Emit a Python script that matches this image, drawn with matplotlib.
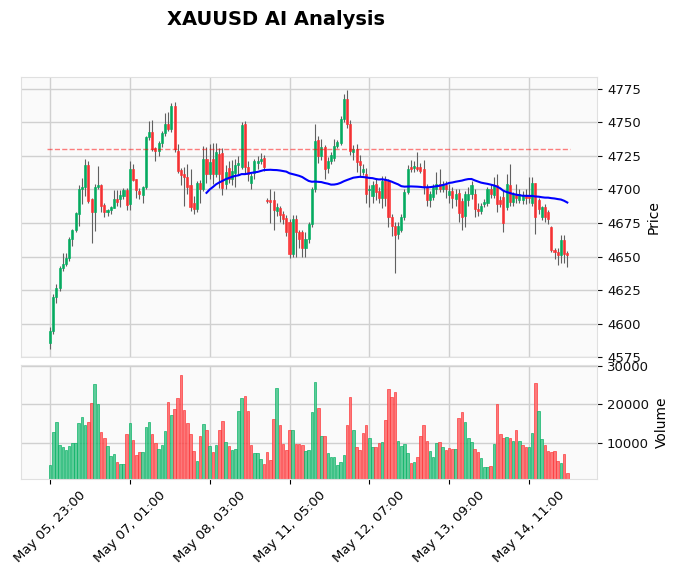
import numpy as np
import pandas as pd
import matplotlib
matplotlib.use('Agg')
import matplotlib.pyplot as plt
from matplotlib.ticker import ScalarFormatter

# OHLC + volume, hourly bars
opens = [4585.7, 4594.6, 4620.1, 4626.5, 4641.3, 4644.7, 4649.1, 4663.4, 4669.8, 4681.6,
         4700.0, 4701.7, 4718.0, 4692.9, 4683.5, 4702.2, 4703.2, 4688.5, 4683.0, 4684.5,
         4686.5, 4692.9, 4692.9, 4695.3, 4699.8, 4689.0, 4715.0, 4707.6, 4699.0, 4696.0,
         4701.7, 4739.0, 4743.0, 4731.0, 4729.0, 4735.0, 4742.0, 4749.0, 4745.0, 4762.0,
         4729.0, 4714.5, 4711.7, 4709.2, 4703.0, 4690.0, 4685.6, 4704.5, 4700.0, 4722.9,
         4711.7, 4722.9, 4711.2, 4726.6, 4727.0, 4704.0, 4716.0, 4708.0, 4712.0, 4718.0,
         4717.0, 4749.0, 4716.7, 4705.0, 4712.0, 4719.5, 4721.5, 4723.5, 4692.0, 4692.5,
         4692.0, 4684.0, 4686.0, 4682.0, 4679.0, 4676.0, 4652.0, 4678.0, 4668.0, 4668.0,
         4656.0, 4663.0, 4674.0, 4700.0, 4737.0, 4725.0, 4731.6, 4715.9, 4721.0, 4723.4,
         4732.8, 4735.0, 4752.7, 4767.7, 4749.0, 4727.9, 4730.3, 4721.6, 4713.0, 4711.7,
         4699.5, 4695.0, 4704.0, 4699.0, 4694.0, 4708.0, 4706.7, 4679.4, 4673.0, 4667.0,
         4670.0, 4679.4, 4698.3, 4716.9, 4716.4, 4716.6, 4716.6, 4715.4, 4701.7, 4692.0,
         4694.5, 4700.0, 4704.0, 4700.5, 4703.0, 4696.0, 4699.0, 4693.0, 4697.5, 4691.5,
         4680.0, 4692.0, 4697.0, 4696.5, 4685.6, 4684.0, 4689.0, 4690.0, 4700.5, 4696.0,
         4703.0, 4691.8, 4694.6, 4687.0, 4703.0, 4690.5, 4697.0, 4692.0, 4692.0, 4696.0,
         4696.0, 4690.0, 4704.5, 4691.8, 4679.4, 4686.8, 4683.0, 4671.9, 4654.5, 4653.3,
         4650.9, 4662.5, 4652.6]
highs = [4597.5, 4622.0, 4629.5, 4643.0, 4652.6, 4652.6, 4664.4, 4670.3, 4683.5, 4703.2,
         4708.8, 4723.0, 4721.6, 4693.5, 4704.4, 4717.4, 4704.0, 4690.0, 4685.5, 4688.0,
         4699.5, 4699.5, 4699.8, 4700.8, 4701.0, 4721.4, 4719.0, 4708.0, 4701.0, 4702.5,
         4740.0, 4751.0, 4752.0, 4732.0, 4736.0, 4744.0, 4757.0, 4758.0, 4764.6, 4765.0,
         4734.0, 4716.0, 4716.7, 4719.0, 4715.0, 4695.0, 4706.7, 4707.0, 4732.8, 4732.0,
         4734.0, 4734.6, 4734.6, 4731.0, 4731.0, 4718.0, 4721.0, 4722.0, 4723.0, 4725.0,
         4750.0, 4751.0, 4721.0, 4712.0, 4723.0, 4725.0, 4727.0, 4726.0, 4694.0, 4700.0,
         4699.0, 4690.0, 4688.0, 4684.0, 4681.0, 4678.0, 4681.0, 4681.0, 4670.0, 4670.0,
         4668.0, 4676.0, 4702.0, 4749.0, 4740.0, 4738.0, 4733.0, 4724.0, 4728.0, 4738.0,
         4737.0, 4755.0, 4771.0, 4774.0, 4752.0, 4733.0, 4734.0, 4726.0, 4719.0, 4716.0,
         4703.0, 4706.0, 4708.0, 4702.0, 4710.0, 4710.0, 4708.0, 4682.0, 4676.0, 4676.0,
         4682.0, 4700.0, 4718.0, 4722.0, 4721.0, 4728.0, 4720.0, 4722.0, 4704.0, 4699.0,
         4704.0, 4713.0, 4715.0, 4706.0, 4706.0, 4704.0, 4702.0, 4700.0, 4700.0, 4694.0,
         4699.0, 4702.0, 4706.0, 4700.0, 4690.0, 4690.0, 4693.0, 4702.0, 4704.0, 4709.5,
         4711.6, 4695.0, 4699.0, 4711.6, 4719.0, 4698.0, 4704.0, 4700.0, 4699.0, 4700.0,
         4709.0, 4709.5, 4705.0, 4694.0, 4688.0, 4689.0, 4685.0, 4673.0, 4656.0, 4656.0,
         4666.0, 4666.0, 4654.0]
lows = [4580.8, 4592.0, 4615.0, 4624.0, 4639.0, 4643.0, 4647.0, 4657.7, 4668.0, 4672.5,
        4689.0, 4695.0, 4690.0, 4660.2, 4668.8, 4700.0, 4683.0, 4679.4, 4680.0, 4682.0,
        4686.0, 4688.0, 4687.0, 4693.0, 4685.0, 4684.8, 4706.0, 4694.0, 4693.0, 4690.0,
        4700.0, 4737.0, 4729.0, 4721.5, 4725.0, 4732.0, 4740.0, 4744.0, 4743.0, 4728.0,
        4712.0, 4703.7, 4688.0, 4697.0, 4684.0, 4682.0, 4683.0, 4690.0, 4699.0, 4705.0,
        4708.0, 4704.0, 4709.0, 4701.0, 4696.0, 4700.0, 4705.0, 4703.0, 4702.0, 4711.0,
        4715.0, 4712.0, 4706.0, 4700.0, 4708.0, 4715.0, 4719.0, 4714.0, 4690.0, 4675.0,
        4670.0, 4680.0, 4676.0, 4674.0, 4665.0, 4649.0, 4650.0, 4650.0, 4656.0, 4650.0,
        4650.0, 4660.0, 4672.0, 4698.0, 4720.0, 4722.0, 4708.0, 4712.0, 4719.0, 4721.0,
        4731.0, 4733.0, 4750.0, 4746.0, 4726.0, 4722.0, 4713.0, 4710.0, 4711.0, 4690.0,
        4687.0, 4690.0, 4692.0, 4690.0, 4686.0, 4688.0, 4672.0, 4665.0, 4638.0, 4663.0,
        4668.0, 4677.0, 4697.0, 4713.0, 4713.0, 4714.0, 4712.0, 4697.0, 4688.0, 4687.0,
        4692.0, 4697.0, 4698.0, 4698.0, 4694.0, 4690.0, 4686.0, 4688.0, 4676.0, 4669.5,
        4672.0, 4688.0, 4693.0, 4679.4, 4680.0, 4682.0, 4687.0, 4688.0, 4694.0, 4694.0,
        4683.0, 4687.0, 4668.0, 4685.0, 4688.0, 4688.0, 4690.0, 4690.0, 4689.0, 4689.0,
        4690.0, 4688.0, 4666.9, 4682.0, 4677.0, 4676.0, 4674.0, 4653.0, 4648.0, 4644.0,
        4645.0, 4645.0, 4642.0]
closes = [4594.6, 4620.1, 4626.5, 4641.3, 4644.7, 4649.1, 4663.4, 4669.8, 4682.6, 4700.0,
          4701.7, 4718.0, 4691.4, 4683.5, 4702.2, 4703.2, 4688.0, 4683.0, 4684.5, 4687.0,
          4692.9, 4690.9, 4695.8, 4699.8, 4688.5, 4715.0, 4707.1, 4699.5, 4696.3, 4701.7,
          4739.0, 4743.0, 4730.3, 4729.0, 4735.0, 4742.0, 4749.0, 4745.0, 4762.0, 4730.0,
          4714.0, 4710.5, 4709.2, 4702.2, 4686.8, 4685.6, 4704.7, 4700.5, 4722.9, 4711.7,
          4720.4, 4711.2, 4727.9, 4711.7, 4701.0, 4713.0, 4708.0, 4714.0, 4718.0, 4720.0,
          4747.8, 4716.7, 4711.7, 4710.0, 4721.0, 4721.0, 4723.0, 4717.0, 4691.5, 4691.0,
          4684.5, 4687.0, 4681.0, 4678.0, 4668.0, 4652.0, 4678.0, 4668.0, 4663.0, 4656.0,
          4663.0, 4674.0, 4700.0, 4736.5, 4725.0, 4731.6, 4715.4, 4721.0, 4725.4, 4732.8,
          4735.3, 4752.7, 4767.7, 4749.0, 4729.0, 4730.3, 4720.4, 4718.0, 4715.0, 4696.8,
          4700.5, 4703.0, 4698.0, 4694.0, 4706.7, 4694.0, 4679.4, 4673.0, 4665.7, 4673.0,
          4679.4, 4698.3, 4715.6, 4715.1, 4717.4, 4715.1, 4714.0, 4701.7, 4691.8, 4696.5,
          4702.0, 4704.0, 4700.5, 4703.0, 4700.0, 4699.0, 4694.0, 4696.5, 4682.5, 4679.4,
          4696.5, 4697.0, 4703.0, 4685.6, 4684.0, 4688.0, 4690.5, 4700.5, 4697.0, 4703.0,
          4689.5, 4689.3, 4674.9, 4704.2, 4690.5, 4696.8, 4693.5, 4697.0, 4696.0, 4693.5,
          4694.0, 4704.5, 4679.4, 4685.6, 4686.8, 4679.4, 4678.0, 4654.5, 4653.2, 4650.9,
          4662.0, 4652.0, 4651.0]
volumes = [4444, 12906, 15470, 9487, 8974, 8290, 9231, 10000, 10000, 15214,
           16752, 14615, 15470, 20342, 25214, 20085, 12906, 11282, 9316, 6752,
           7265, 5214, 4700, 4700, 12393, 15214, 10855, 7009, 7778, 7778,
           14188, 15470, 12308, 10000, 8547, 9573, 13162, 20598, 17265, 18803,
           21624, 27521, 18547, 15299, 12308, 8034, 5470, 11880, 14957, 13333,
           9316, 7778, 9573, 13333, 15726, 10342, 9316, 8290, 8547, 18291,
           21624, 22137, 18291, 9573, 7521, 7521, 5983, 4700, 7778, 5726,
           16239, 24188, 14701, 9829, 8290, 13419, 13419, 9829, 9829, 9573,
           8034, 8290, 18034, 25726, 19060, 11880, 11880, 7521, 6496, 6496,
           4444, 5214, 7009, 14701, 21880, 13419, 9060, 8290, 12650, 14701,
           11368, 9060, 9060, 10085, 10342, 15983, 23932, 21880, 23162, 10598,
           9316, 9829, 7521, 4957, 5214, 6496, 11880, 14701, 10598, 8034,
           6496, 10085, 10342, 9060, 8290, 8803, 8547, 8547, 16496, 18034,
           15470, 11368, 10342, 8547, 7778, 6239, 3932, 3932, 4188, 9829,
           20085, 12393, 11368, 11624, 11368, 10598, 13419, 10598, 9573, 9060,
           9060, 12650, 25470, 18291, 11111, 9573, 8034, 7778, 8034, 5470,
           4957, 7265, 2393]
tick_labels = ['May 05, 23:00', 'May 07, 01:00', 'May 08, 03:00', 'May 11, 05:00',
               'May 12, 07:00', 'May 13, 09:00', 'May 14, 11:00']
level = 4730.3

df = pd.DataFrame({'Open': opens, 'High': highs, 'Low': lows,
                   'Close': closes, 'Volume': volumes})
n = len(df)
x = np.arange(n)
df['MA50'] = df['Close'].rolling(50).mean()

# yahoo-like colours
up_c, down_c = '#00b060', '#fe3032'
vol_up, vol_down = '#4dc790', '#fd6b6c'
grid_c = '#d0d0d0'

fig = plt.figure(figsize=(6.79, 5.79), dpi=100)
ax = fig.add_axes([0.0309, 0.3829, 0.8488, 0.4836])
axv = fig.add_axes([0.0309, 0.1727, 0.8488, 0.1974], sharex=ax)

for a in (ax, axv):
    a.set_facecolor('#fafafa')
    a.grid(True, color=grid_c, linestyle='-', linewidth=1.0)
    a.set_axisbelow(True)
    for s in a.spines.values():
        s.set_color('#e0e0e0')
    a.yaxis.tick_right()
    a.yaxis.set_label_position('right')
    a.tick_params(axis='y', labelsize=9.5, colors='#101010')

# candles
is_up = df['Close'] >= df['Open']
ccol = np.where(is_up, up_c, down_c)
ax.vlines(x, df['Low'], df['High'], color='#606060', linewidth=0.8, zorder=2)
body_lo = np.minimum(df['Open'], df['Close'])
body_h = np.abs(df['Close'] - df['Open']).clip(lower=0.4)
ax.bar(x, body_h, bottom=body_lo, width=0.65, color=ccol, edgecolor=ccol,
       linewidth=0.5, alpha=0.9, zorder=3)

ax.plot(x, df['MA50'], color='blue', linewidth=1.5, zorder=4)
ax.hlines(level, -1, n, colors='red', linestyles='--', linewidth=1.0, alpha=0.5, zorder=4)

ax.set_ylim(4574.8, 4783.7)
ax.set_yticks(np.arange(4575, 4776, 25))
ax.set_ylabel('Price', fontsize=10)
ax.tick_params(axis='x', labelbottom=False, length=0)

# volume, coloured by close vs previous close
prev = df['Close'].shift(1).fillna(df['Open'])
vup = df['Close'] >= prev
vcol = np.where(vup, vol_up, vol_down)
vedge = np.where(vup, up_c, down_c)
axv.bar(x, df['Volume'], width=0.8, color=vcol, edgecolor=vedge, linewidth=0.5, alpha=0.9)
axv.set_ylim(0.3 * min(volumes), 1.1 * max(volumes))
axv.set_yticks([10000, 20000, 30000])
fmt = ScalarFormatter(useOffset=False)
fmt.set_scientific(False)
axv.yaxis.set_major_formatter(fmt)
axv.set_ylabel('Volume', fontsize=10)

ticks = np.arange(0, n, 25)
axv.set_xticks(ticks)
axv.set_xticklabels(tick_labels, rotation=45, ha='center', fontsize=9.5)
axv.tick_params(axis='x', length=3.5)
ax.set_xlim(-9.1, 171.4)

fig.text(0.4065, 0.967, 'XAUUSD AI Analysis', fontsize=14, fontweight='bold',
         ha='center', va='center')

plt.savefig('out.png', dpi=100)
